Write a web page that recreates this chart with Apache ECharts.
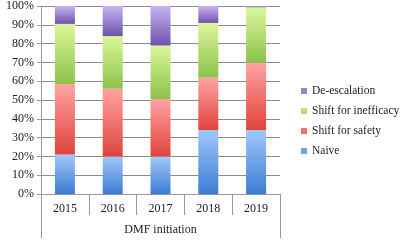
<!DOCTYPE html>
<html>
<head>
<meta charset="utf-8">
<script src="https://cdn.jsdelivr.net/npm/echarts@6/dist/echarts.min.js"></script>
<style>
  html, body { margin: 0; padding: 0; background: #fff; }
  #chart { width: 400px; height: 240px; }
</style>
</head>
<body>
<div id="chart"></div>
<script>
let years = ['2015', '2016', '2017', '2018', '2019'];
let naive = [21, 20, 20, 34, 34];
let shiftSafety = [37.5, 36, 30.5, 28, 36];
let shiftInefficacy = [32, 28, 28.5, 29, 29.3];
let deEscalation = [9.5, 16, 21, 9, 0.7];
let yTicks = [0, 10, 20, 30, 40, 50, 60, 70, 80, 90, 100];

let font = 'Liberation Serif';

function grad(top, bottom) {
    return new echarts.graphic.LinearGradient(0, 0, 0, 1, [
        { offset: 0, color: top },
        { offset: 1, color: bottom }
    ]);
}

function makeSeries(name, data, top, bottom) {
    return {
        name: name,
        type: 'bar',
        stack: 'total',
        barWidth: 20,
        data: data,
        itemStyle: { color: grad(top, bottom) }
    };
}

let chart = echarts.init(document.getElementById('chart'));
let option = {
    animation: false,
    textStyle: { fontFamily: font },
    grid: { left: 41, right: 120, top: 6, bottom: 46 },
    legend: {
        orient: 'vertical',
        left: 296,
        top: 79,
        itemWidth: 6,
        itemHeight: 6,
        itemGap: 6,
        icon: 'rect',
        textStyle: { fontFamily: font, fontSize: 11.5, color: '#222', lineHeight: 14 },
        data: [
            { name: 'De-escalation', itemStyle: { color: '#9a82d2' } },
            { name: 'Shift for inefficacy', itemStyle: { color: '#b7e06e' } },
            { name: 'Shift for safety', itemStyle: { color: '#f07070' } },
            { name: 'Naive', itemStyle: { color: '#6ea4e8' } }
        ]
    },
    xAxis: [
        {
            type: 'category',
            data: years,
            axisLine: { lineStyle: { color: '#999' } },
            axisTick: { show: true, length: 21, lineStyle: { color: '#999' } },
            axisLabel: { color: '#222', fontSize: 12, margin: 9, fontFamily: font }
        },
        {
            type: 'category',
            data: ['DMF initiation'],
            position: 'bottom',
            axisLine: { show: false },
            axisTick: { show: true, length: 44, lineStyle: { color: '#999' } },
            axisLabel: { color: '#222', fontSize: 12, margin: 30, fontFamily: font }
        }
    ],
    yAxis: {
        type: 'value',
        min: yTicks[0],
        max: yTicks[yTicks.length - 1],
        interval: 10,
        axisLine: { show: true, lineStyle: { color: '#999' } },
        axisTick: { show: true, length: 4, lineStyle: { color: '#999' } },
        axisLabel: { formatter: '{value}%', color: '#222', fontSize: 12, margin: 7, fontFamily: font },
        splitLine: { lineStyle: { color: '#8c8c8c' } }
    },
    series: [
        makeSeries('Naive', naive, '#a3c8f7', '#3a7cd4'),
        makeSeries('Shift for safety', shiftSafety, '#ffa3a3', '#e0433c'),
        makeSeries('Shift for inefficacy', shiftInefficacy, '#dbf79c', '#8cc24a'),
        makeSeries('De-escalation', deEscalation, '#c8b4ee', '#6e52ae')
    ]
};
chart.setOption(option);
</script>
</body>
</html>
